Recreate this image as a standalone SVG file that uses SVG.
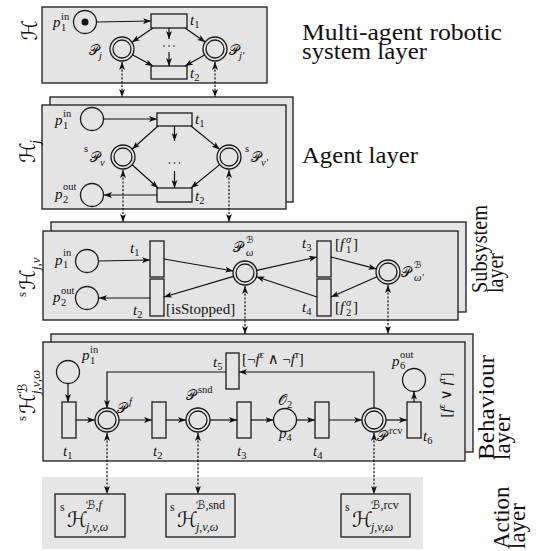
<svg xmlns="http://www.w3.org/2000/svg" width="536" height="551" viewBox="0 0 536 551">
<style>
.box{fill:#e4e4e4;stroke:#1a1a1a;stroke-width:1.3}
.bg{fill:#e6e6e6;stroke:none}
.tr{fill:#e4e4e4;stroke:#1a1a1a;stroke-width:1.3}
.pl{fill:#e4e4e4;stroke:#1a1a1a;stroke-width:1.3}
.arc{fill:none;stroke:#111;stroke-width:1.2;marker-end:url(#ah)}
.link{fill:none;stroke:#111;stroke-width:1.2;stroke-dasharray:2.2 1.6;marker-start:url(#ah);marker-end:url(#ah)}
text{fill:#111}
.m{font-family:"Liberation Serif","Times New Roman","DejaVu Serif",serif;font-style:italic;font-size:15px}
.r{font-family:"Liberation Serif","Times New Roman","DejaVu Serif",serif;font-size:15px}
.su{font-family:"Liberation Serif","Times New Roman","DejaVu Serif",serif;font-size:10.5px;font-style:normal}
.sb{font-family:"Liberation Serif","Times New Roman","DejaVu Serif",serif;font-size:10.5px;font-style:italic}
.cal{font-family:"DejaVu Serif","DejaVu Sans","Noto Sans",serif;font-size:14px}
.calS{font-family:"DejaVu Serif","DejaVu Sans","Noto Sans",serif;font-size:9.5px}
.big{font-family:"DejaVu Serif","DejaVu Sans",serif;font-size:21px}
.lay{font-family:"Liberation Serif","Times New Roman","DejaVu Serif",serif;font-size:23px}
</style>
<defs>
<marker id="ah" viewBox="0 0 8 6" refX="8" refY="3" markerWidth="8" markerHeight="6" markerUnits="userSpaceOnUse" orient="auto-start-reverse">
<path d="M0,0 L8,3 L0,6 L2,3 z" fill="#111"/>
</marker>
</defs>

<!-- ===== Multi-agent robotic system layer ===== -->
<g id="layer-mas">
<rect class="box" x="42" y="7" width="225" height="76"/>
<g id="mas-p1"><circle class="pl" cx="85" cy="22" r="11.5"/><circle cx="85" cy="22" r="3.5" fill="#111"/>
<text class="m" x="53" y="27">p</text><text class="su" x="61" y="20">in</text><text class="su" x="61" y="31">1</text></g>
<g id="mas-t1"><rect class="tr" x="151" y="14" width="36" height="14"/><text class="m" x="190" y="25">t<tspan class="su" dy="3">1</tspan></text></g>
<g id="mas-t2"><rect class="tr" x="151" y="66" width="36" height="13"/><text class="m" x="190" y="78">t<tspan class="su" dy="3">2</tspan></text></g>
<g id="mas-Pj"><circle class="pl" cx="122" cy="49" r="12"/><circle class="pl" cx="122" cy="49" r="9"/>
<text class="cal" x="89" y="55">𝒫<tspan class="sb" dy="4">j</tspan></text></g>
<g id="mas-Pj2"><circle class="pl" cx="215" cy="49" r="12"/><circle class="pl" cx="215" cy="49" r="9"/>
<text class="cal" x="229" y="55">𝒫<tspan class="sb" dy="4">j′</tspan></text></g>
<g id="mas-dots" fill="#111"><circle cx="164" cy="46" r="0.8"/><circle cx="169" cy="46" r="0.8"/><circle cx="174" cy="46" r="0.8"/></g>
</g>

<!-- ===== Agent layer ===== -->
<g id="layer-agent">
<rect class="box" x="50" y="97" width="243" height="105"/>
<rect class="box" x="42" y="105" width="244" height="104"/>
<g id="ag-p1"><circle class="pl" cx="92" cy="119" r="11.5"/>
<text class="m" x="55" y="125">p</text><text class="su" x="63" y="117">in</text><text class="su" x="63" y="129">1</text></g>
<g id="ag-p2"><circle class="pl" cx="92" cy="195" r="11.5"/>
<text class="m" x="55" y="199">p</text><text class="su" x="63" y="190">out</text><text class="su" x="63" y="203">2</text></g>
<g id="ag-t1"><rect class="tr" x="157" y="113" width="35" height="13"/><text class="m" x="195" y="124">t<tspan class="su" dy="3">1</tspan></text></g>
<g id="ag-t2"><rect class="tr" x="157" y="188" width="35" height="14"/><text class="m" x="195" y="201">t<tspan class="su" dy="3">2</tspan></text></g>
<g id="ag-Pv"><circle class="pl" cx="123" cy="157" r="12"/><circle class="pl" cx="123" cy="157" r="9"/>
<text class="su" x="84" y="152">s</text><text class="cal" x="90" y="162">𝒫<tspan class="sb" dy="4">v</tspan></text></g>
<g id="ag-Pv2"><circle class="pl" cx="229" cy="157" r="12"/><circle class="pl" cx="229" cy="157" r="9"/>
<text class="su" x="245" y="152">s</text><text class="cal" x="251" y="162">𝒫<tspan class="sb" dy="4">v′</tspan></text></g>
<g id="ag-dots" fill="#111"><circle cx="169.5" cy="163" r="0.8"/><circle cx="174.5" cy="163" r="0.8"/><circle cx="179.5" cy="163" r="0.8"/></g>
</g>

<!-- ===== Subsystem layer ===== -->
<g id="layer-subsystem">
<rect class="box" x="51" y="222" width="415" height="90"/>
<rect class="box" x="43" y="231" width="415" height="89"/>
<g id="ss-p1"><circle class="pl" cx="87" cy="261" r="11.5"/>
<text class="m" x="55" y="265">p</text><text class="su" x="63" y="256">in</text><text class="su" x="63" y="268">1</text></g>
<g id="ss-p2"><circle class="pl" cx="87" cy="298" r="11.5"/>
<text class="m" x="53" y="302">p</text><text class="su" x="61" y="294">out</text><text class="su" x="61" y="306">2</text></g>
<g id="ss-t1"><rect class="tr" x="150" y="241" width="14" height="36"/><text class="m" x="130" y="253">t<tspan class="su" dy="3">1</tspan></text></g>
<g id="ss-t2"><rect class="tr" x="150" y="279" width="14" height="37"/><text class="m" x="133" y="315">t<tspan class="su" dy="3">2</tspan></text>
<text class="r" x="166" y="314">[isStopped]</text></g>
<g id="ss-t3"><rect class="tr" x="317" y="241" width="14" height="36"/><text class="m" x="302" y="248">t<tspan class="su" dy="3">3</tspan></text>
<text class="r" x="335" y="249">[<tspan class="m">f</tspan></text><text class="su" x="346" y="253">1</text><text class="sb" x="346" y="243">σ</text><text class="r" x="353" y="249">]</text></g>
<g id="ss-t4"><rect class="tr" x="317" y="279" width="14" height="37"/><text class="m" x="302" y="312">t<tspan class="su" dy="3">4</tspan></text>
<text class="r" x="335" y="312">[<tspan class="m">f</tspan></text><text class="su" x="346" y="316">2</text><text class="sb" x="346" y="306">σ</text><text class="r" x="353" y="312">]</text></g>
<g id="ss-Pw"><circle class="pl" cx="245" cy="273" r="12"/><circle class="pl" cx="245" cy="273" r="9"/>
<text class="cal" x="233" y="252">𝒫</text><text class="calS" x="246" y="243">ℬ</text><text class="sb" x="246" y="256">ω</text></g>
<g id="ss-Pw2"><circle class="pl" cx="388" cy="272" r="12"/><circle class="pl" cx="388" cy="272" r="9"/>
<text class="cal" x="401" y="277">𝒫</text><text class="calS" x="414" y="268">ℬ</text><text class="sb" x="414" y="281">ω′</text></g>
</g>

<!-- ===== Behaviour layer ===== -->
<g id="layer-behaviour">
<rect class="box" x="51" y="334" width="422" height="118"/>
<rect class="box" x="43" y="342" width="422" height="119"/>
<g id="bh-p1"><circle class="pl" cx="68" cy="372" r="11.5"/>
<text class="m" x="82" y="360">p</text><text class="su" x="90" y="353">in</text><text class="su" x="90" y="364">1</text></g>
<g id="bh-t1"><rect class="tr" x="62" y="402" width="14" height="36"/><text class="m" x="63" y="456">t<tspan class="su" dy="3">1</tspan></text></g>
<g id="bh-Pf"><circle class="pl" cx="107" cy="420" r="12"/><circle class="pl" cx="107" cy="420" r="9"/>
<text class="cal" x="117" y="413">𝒫</text><text class="sb" x="129" y="405">f</text></g>
<g id="bh-t2"><rect class="tr" x="152" y="402" width="14" height="36"/><text class="m" x="153" y="456">t<tspan class="su" dy="3">2</tspan></text></g>
<g id="bh-Psnd"><circle class="pl" cx="198" cy="420" r="12"/><circle class="pl" cx="198" cy="420" r="9"/>
<text class="cal" x="186" y="400">𝒫</text><text class="su" x="198" y="393">snd</text></g>
<g id="bh-t3"><rect class="tr" x="237" y="402" width="14" height="36"/><text class="m" x="237" y="456">t<tspan class="su" dy="3">3</tspan></text></g>
<g id="bh-p4"><circle class="pl" cx="285" cy="420" r="11.5"/>
<text class="cal" x="278" y="405">𝒪<tspan class="su" dy="3">2</tspan></text>
<text class="m" x="279" y="438">p<tspan class="su" dy="3">4</tspan></text></g>
<g id="bh-t4"><rect class="tr" x="315" y="402" width="14" height="36"/><text class="m" x="313" y="456">t<tspan class="su" dy="3">4</tspan></text></g>
<g id="bh-Prcv"><circle class="pl" cx="374" cy="420" r="12"/><circle class="pl" cx="374" cy="420" r="9"/>
<text class="cal" x="377" y="441">𝒫</text><text class="su" x="389" y="434">rcv</text></g>
<g id="bh-t6"><rect class="tr" x="407" y="402" width="14" height="36"/><text class="m" x="423" y="441">t<tspan class="su" dy="3">6</tspan></text>
<text class="r" transform="translate(451,395) rotate(-90)" text-anchor="middle">[<tspan class="m">f</tspan><tspan class="sb" dy="-6">ϵ</tspan><tspan dy="6"> ∨ </tspan><tspan class="m">f</tspan><tspan class="sb" dy="-6">τ</tspan><tspan dy="6">]</tspan></text></g>
<g id="bh-p6"><circle class="pl" cx="414" cy="380" r="11.5"/>
<text class="m" x="392" y="366">p</text><text class="su" x="400" y="358">out</text><text class="su" x="400" y="369">6</text></g>
<g id="bh-t5"><rect class="tr" x="226" y="353" width="13" height="36"/><text class="m" x="213" y="367">t<tspan class="su" dy="3">5</tspan></text>
<text class="r" x="242" y="364">[¬<tspan class="m">f</tspan><tspan class="sb" dy="-6">ϵ</tspan><tspan dy="6"> ∧ ¬</tspan><tspan class="m">f</tspan><tspan class="sb" dy="-6">τ</tspan><tspan dy="6">]</tspan></text></g>
</g>

<!-- ===== Action layer ===== -->
<g id="layer-action">
<rect class="bg" x="42" y="477" width="381" height="72"/>
<g id="act-f"><rect class="box" x="55" y="494" width="70" height="43"/>
<text class="su" x="60" y="511" style="font-size:12px">s</text><text class="big" x="67" y="527">ℋ</text>
<text class="calS" x="86" y="509" style="font-size:12px">ℬ<tspan class="sb" style="font-size:12px">,f</tspan></text>
<text class="sb" x="86" y="531" style="font-size:12px">j,v,ω</text></g>
<g id="act-snd"><rect class="box" x="166" y="494" width="69" height="43"/>
<text class="su" x="170" y="511" style="font-size:12px">s</text><text class="big" x="177" y="527">ℋ</text>
<text class="calS" x="196" y="509" style="font-size:12px">ℬ<tspan class="su" style="font-size:12px">,snd</tspan></text>
<text class="sb" x="196" y="531" style="font-size:12px">j,v,ω</text></g>
<g id="act-rcv"><rect class="box" x="341" y="494" width="69" height="43"/>
<text class="su" x="345" y="511" style="font-size:12px">s</text><text class="big" x="352" y="527">ℋ</text>
<text class="calS" x="371" y="509" style="font-size:12px">ℬ<tspan class="su" style="font-size:12px">,rcv</tspan></text>
<text class="sb" x="371" y="531" style="font-size:12px">j,v,ω</text></g>
</g>

<!-- ===== Connectors ===== -->
<g id="connectors">
<!-- multi-agent net -->
<line class="arc" x1="97" y1="22" x2="151" y2="21"/>
<line class="arc" x1="153" y1="28" x2="132" y2="42.3"/>
<line class="arc" x1="185" y1="28" x2="205.2" y2="42.1"/>
<line class="arc" x1="132.5" y1="54.8" x2="153" y2="66"/>
<line class="arc" x1="204.6" y1="54.9" x2="185" y2="66"/>
<line class="arc" x1="169" y1="28" x2="169" y2="39"/>
<line class="arc" x1="169" y1="52" x2="169" y2="66"/>
<!-- agent net -->
<line class="arc" x1="104" y1="119" x2="157" y2="119"/>
<line class="arc" x1="158" y1="126" x2="132.1" y2="149.2"/>
<line class="arc" x1="191" y1="126" x2="219.7" y2="149.4"/>
<line class="arc" x1="132.1" y1="164.8" x2="158" y2="188"/>
<line class="arc" x1="219.7" y1="164.6" x2="191" y2="188"/>
<line class="arc" x1="174.5" y1="126" x2="174.5" y2="141"/>
<line class="arc" x1="174.5" y1="171" x2="174.5" y2="188"/>
<line class="arc" x1="157" y1="195" x2="104" y2="195"/>
<!-- subsystem net -->
<line class="arc" x1="99" y1="261" x2="150" y2="260"/>
<line class="arc" x1="164" y1="259" x2="233.2" y2="271"/>
<line class="arc" x1="256.7" y1="270.4" x2="317" y2="257"/>
<line class="arc" x1="331" y1="257" x2="376.4" y2="268.9"/>
<line class="arc" x1="377" y1="276.8" x2="331" y2="297"/>
<line class="arc" x1="317" y1="297" x2="256.4" y2="276.8"/>
<line class="arc" x1="233.5" y1="276.4" x2="164" y2="297"/>
<line class="arc" x1="150" y1="298" x2="99" y2="298"/>
<!-- behaviour net -->
<line class="arc" x1="68" y1="383.5" x2="68" y2="402"/>
<line class="arc" x1="76" y1="420" x2="95" y2="420"/>
<line class="arc" x1="119" y1="420" x2="152" y2="420"/>
<line class="arc" x1="166" y1="420" x2="186" y2="420"/>
<line class="arc" x1="210" y1="420" x2="237" y2="420"/>
<line class="arc" x1="251" y1="420" x2="273.5" y2="420"/>
<line class="arc" x1="296.5" y1="420" x2="315" y2="420"/>
<line class="arc" x1="329" y1="420" x2="362" y2="420"/>
<line class="arc" x1="386" y1="420" x2="407" y2="420"/>
<line class="arc" x1="414" y1="402" x2="414" y2="391.5"/>
<polyline class="arc" points="374,408 374,372 239,372"/>
<polyline class="arc" points="226,372 107,372 107,408"/>
<!-- inter-layer refinement links -->
<line class="link" x1="122" y1="62" x2="122" y2="97"/>
<line class="link" x1="215" y1="62" x2="215" y2="97"/>
<line class="link" x1="123" y1="170" x2="123" y2="222"/>
<line class="link" x1="229" y1="170" x2="229" y2="222"/>
<line class="link" x1="245" y1="286" x2="245" y2="334"/>
<line class="link" x1="388" y1="285" x2="388" y2="334"/>
<line class="link" x1="107" y1="433" x2="107" y2="494"/>
<line class="link" x1="198" y1="433" x2="198" y2="494"/>
<line class="link" x1="374" y1="433" x2="374" y2="494"/>
</g>

<!-- ===== Layer titles (left, rotated) ===== -->
<g id="titles-left">
<text class="big" transform="translate(37,30) rotate(-90)" text-anchor="middle">ℋ</text>
<g transform="translate(35,163) rotate(-90)"><text class="big" x="0" y="0">ℋ</text><text class="sb" x="19" y="5" style="font-size:14px">j</text></g>
<g transform="translate(35,297) rotate(-90)"><text class="su" x="0" y="-9" style="font-size:13px">s</text><text class="big" x="7" y="0">ℋ</text><text class="sb" x="27" y="5" style="font-size:13px">j,v</text></g>
<g transform="translate(35,421) rotate(-90)"><text class="su" x="0" y="-9" style="font-size:13px">s</text><text class="big" x="7" y="0">ℋ</text><text class="calS" x="27" y="-8" style="font-size:13px">ℬ</text><text class="sb" x="27" y="5" style="font-size:13px">j,v,ω</text></g>
</g>

<!-- ===== Layer names (right) ===== -->
<g id="titles-right">
<text class="lay" x="302" y="40" textLength="200" lengthAdjust="spacingAndGlyphs">Multi-agent robotic</text>
<text class="lay" x="302" y="59" textLength="125" lengthAdjust="spacingAndGlyphs">system layer</text>
<text class="lay" x="302" y="163" textLength="116" lengthAdjust="spacingAndGlyphs">Agent layer</text>
<g transform="translate(487,293) rotate(-90)"><text class="lay" x="0" y="0" textLength="88" lengthAdjust="spacingAndGlyphs">Subsystem</text><text class="lay" x="0" y="16" textLength="40" lengthAdjust="spacingAndGlyphs">layer</text></g>
<g transform="translate(494,460) rotate(-90)"><text class="lay" x="0" y="0" textLength="105" lengthAdjust="spacingAndGlyphs">Behaviour</text><text class="lay" x="0" y="16">layer</text></g>
<g transform="translate(509,549) rotate(-90)"><text class="lay" x="0" y="0">Action</text><text class="lay" x="0" y="16">layer</text></g>
</g>
</svg>
